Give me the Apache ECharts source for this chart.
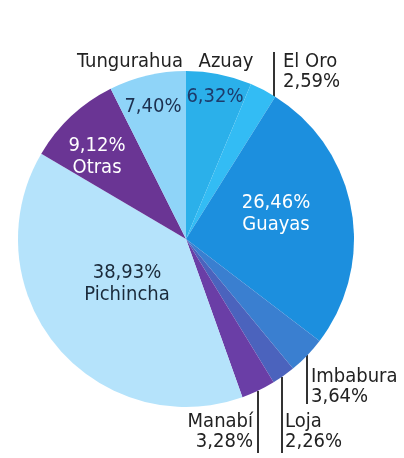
<!doctype html>
<html>
<head>
    <meta charset="utf-8">
    <title>Provincias</title>
    <script src="https://cdn.jsdelivr.net/npm/echarts@6/dist/echarts.min.js"></script>
    <style>
        html, body { margin: 0; padding: 0; background: #fff; }
        #chart { width: 404px; height: 458px; }
    </style>
</head>
<body>
<div id="chart"></div>
<script type="text/javascript">
    // datos (porcentajes), en orden horario desde arriba
    var provincias = ['Azuay', 'El Oro', 'Guayas', 'Imbabura', 'Loja', 'Manabí', 'Pichincha', 'Otras', 'Tungurahua'];
    var porcentajes = [6.32, 2.59, 26.46, 3.64, 2.26, 3.28, 38.93, 9.12, 7.40];
    var colores = ['#2bb0ea', '#33bcf4', '#1c8fde', '#3a7fd0', '#4b63bd', '#6a3ea6', '#b5e3fb', '#6a3594', '#8fd4f8'];

    var FONT = "'DejaVu Sans Condensed', 'Liberation Sans Narrow', 'Roboto', sans-serif";
    var CX = 186, CY = 239, R = 168;

    function pct(v) {
        return v.toFixed(2).replace('.', ',') + '%';
    }

    // etiquetas dentro de la torta: [x, y, color, con nombre]
    var dentro = {
        'Azuay': [215, 97, '#1d3b6b', false],
        'Guayas': [276, 214, '#ffffff', true],
        'Pichincha': [127, 284, '#1a2a3a', true],
        'Otras': [97, 157, '#ffffff', true],
        'Tungurahua': [153, 107, '#1d3050', false]
    };
    // etiquetas de afuera: [x, y, align, con porcentaje, linea x, linea y1, linea y2]
    var fuera = {
        'Tungurahua': [130, 62, 'center', false],
        'Azuay': [226, 62, 'center', false],
        'El Oro': [283, 72, 'left', true, 274, 52, 97],
        'Imbabura': [311, 387, 'left', true, 307, 355, 404],
        'Loja': [285, 432, 'left', true, 282, 377, 453],
        'Manabí': [253, 432, 'right', true, 258, 391, 453]
    };

    var datosDentro = provincias.map(function (n, i) {
        var d = dentro[n];
        return {
            name: n,
            value: porcentajes[i],
            itemStyle: { color: colores[i] },
            label: d ? {
                show: true,
                color: d[2],
                formatter: d[3] ? pct(porcentajes[i]) + '\n' + n : pct(porcentajes[i])
            } : { show: false }
        };
    });

    var datosFuera = provincias.map(function (n, i) {
        var f = fuera[n];
        return {
            name: n,
            value: porcentajes[i],
            label: f ? {
                show: true,
                formatter: f[3] ? n + '\n' + pct(porcentajes[i]) : n
            } : { show: false },
            labelLine: { show: !!(f && f[4]) }
        };
    });

    var myChart = echarts.init(document.getElementById('chart'), null, { renderer: 'canvas' });
    var option = {
        backgroundColor: '#ffffff',
        animation: false,
        series: [
            {
                type: 'pie',
                center: [CX, CY],
                radius: [0, R],
                startAngle: 90,
                clockwise: true,
                silent: true,
                data: datosDentro,
                itemStyle: { borderWidth: 0 },
                label: {
                    position: 'inside',
                    fontFamily: FONT,
                    fontSize: 20,
                    lineHeight: 22,
                    overflow: 'none'
                },
                labelLine: { show: false },
                labelLayout: function (params) {
                    var d = dentro[provincias[params.dataIndex]];
                    if (!d) return {};
                    return { x: d[0], y: d[1], align: 'center', verticalAlign: 'middle' };
                }
            },
            {
                type: 'pie',
                center: [CX, CY],
                radius: [0, R],
                startAngle: 90,
                clockwise: true,
                silent: true,
                data: datosFuera,
                itemStyle: { color: 'rgba(0,0,0,0)', borderWidth: 0 },
                label: {
                    position: 'outside',
                    fontFamily: FONT,
                    fontSize: 20,
                    lineHeight: 20,
                    color: '#222222',
                    overflow: 'none',
                    edgeDistance: 0
                },
                labelLine: {
                    length: 0,
                    length2: 0,
                    lineStyle: { color: '#333333', width: 2 }
                },
                labelLayout: function (params) {
                    var f = fuera[provincias[params.dataIndex]];
                    if (!f) return {};
                    var out = { x: f[0], y: f[1], align: f[2], verticalAlign: 'middle' };
                    if (f[4]) {
                        out.labelLinePoints = [[f[4], f[5]], [f[4], f[6]], [f[4], f[6]]];
                    }
                    return out;
                }
            }
        ]
    };
    myChart.setOption(option);
</script>
</body>
</html>
